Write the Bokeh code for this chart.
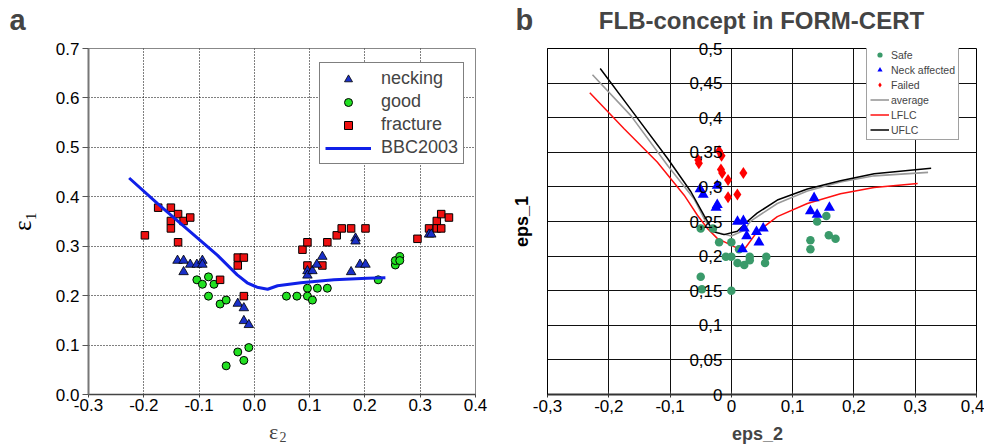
from bokeh.plotting import figure
from bokeh.models import FixedTicker, Legend, LegendItem, Label, Range1d
from bokeh.layouts import row, column
from bokeh.embed import file_html
from bokeh.resources import INLINE

# ---------------- Panel a data ----------------
neck_x = [-0.139, -0.128, -0.128, -0.116, -0.104, -0.094, -0.094, -0.030, -0.019, -0.019, -0.010,
          0.096, 0.096, 0.105, 0.113, 0.123, 0.175, 0.183, 0.183, 0.191, 0.201, 0.316, 0.320]
neck_y = [0.271, 0.271, 0.248, 0.263, 0.263, 0.271, 0.263, 0.184, 0.175, 0.149, 0.141,
          0.250, 0.241, 0.250, 0.263, 0.279, 0.248, 0.316, 0.310, 0.263, 0.263, 0.324, 0.324]

good_x = [-0.104, -0.094, -0.083, -0.083, -0.073, -0.062, -0.051, -0.051, -0.030, -0.019, -0.010,
          0.058, 0.077, 0.096, 0.096, 0.105, 0.114, 0.132, 0.224, 0.255, 0.255, 0.263, 0.263]
good_y = [0.232, 0.223, 0.238, 0.199, 0.223, 0.183, 0.191, 0.058, 0.086, 0.069, 0.095,
          0.199, 0.199, 0.215, 0.199, 0.191, 0.215, 0.215, 0.232, 0.262, 0.271, 0.279, 0.271]

frac_x = [-0.198, -0.174, -0.151, -0.151, -0.151, -0.138, -0.138, -0.128, -0.116, -0.062,
          -0.030, -0.019, -0.030, -0.019, 0.087, 0.096, 0.096, 0.123, 0.132, 0.149,
          0.158, 0.175, 0.201, 0.295, 0.316, 0.330, 0.330, 0.338, 0.338, 0.352]
frac_y = [0.322, 0.378, 0.378, 0.351, 0.336, 0.365, 0.308, 0.351, 0.358, 0.232,
          0.277, 0.277, 0.261, 0.199, 0.293, 0.308, 0.261, 0.261, 0.308, 0.322,
          0.336, 0.336, 0.336, 0.315, 0.336, 0.351, 0.336, 0.365, 0.336, 0.358]

bbc_x = [-0.2265, -0.175, -0.121, -0.067, -0.031, -0.013, 0.005, 0.024, 0.042, 0.084, 0.144, 0.204, 0.237]
bbc_y = [0.438, 0.386, 0.334, 0.282, 0.242, 0.226, 0.217, 0.213, 0.220, 0.226, 0.232, 0.235, 0.236]

a_xticks = [-0.3, -0.2, -0.1, 0.0, 0.1, 0.2, 0.3, 0.4]
a_yticks = [0.0, 0.1, 0.2, 0.3, 0.4, 0.5, 0.6, 0.7]

# ---------------- Panel b data ----------------
safe_x = [-0.050, -0.050, -0.048, -0.030, -0.020, -0.009, 0.000, 0.000, 0.000, 0.010, 0.0125,
          0.021, 0.030, 0.030, 0.057, 0.055, 0.129, 0.129, 0.140, 0.155, 0.159, 0.170]
safe_y = [0.240, 0.170, 0.152, 0.240, 0.220, 0.199, 0.220, 0.199, 0.150, 0.190, 0.210,
          0.187, 0.199, 0.194, 0.199, 0.190, 0.223, 0.210, 0.250, 0.258, 0.230, 0.225]

neckb_x = [-0.051, -0.046, -0.023, -0.023, -0.025, 0.010, 0.0196, 0.021, 0.025, 0.018,
           0.041, 0.052, 0.045, 0.135, 0.129, 0.140, 0.160]
neckb_y = [0.297, 0.289, 0.302, 0.274, 0.270, 0.250, 0.251, 0.240, 0.229, 0.210,
           0.235, 0.240, 0.220, 0.284, 0.265, 0.260, 0.270]

fail_x = [-0.054, -0.053, -0.020, -0.016, -0.017, -0.015, -0.0054, -0.0054, 0.0098, 0.0196]
fail_y = [0.339, 0.334, 0.352, 0.345, 0.325, 0.320, 0.310, 0.285, 0.289, 0.320]

uflc_x = [-0.214, -0.164, -0.104, -0.066, -0.0446, -0.029, -0.012, 0.0098, 0.026, 0.042, 0.075,
          0.124, 0.178, 0.233, 0.326]
uflc_y = [0.471, 0.412, 0.341, 0.293, 0.259, 0.235, 0.231, 0.236, 0.250, 0.262, 0.281,
          0.297, 0.309, 0.319, 0.327]

avg_x = [-0.2266, -0.164, -0.104, -0.061, -0.042, -0.023, 0.000, 0.021, 0.0315, 0.075,
         0.124, 0.178, 0.233, 0.321]
avg_y = [0.462, 0.403, 0.331, 0.283, 0.250, 0.234, 0.229, 0.2375, 0.2505, 0.276,
         0.294, 0.307, 0.316, 0.321]

lflc_x = [-0.231, -0.175, -0.121, -0.077, -0.0554, -0.039, -0.023, 0.007, 0.023, 0.042,
          0.075, 0.124, 0.178, 0.233, 0.304]
lflc_y = [0.436, 0.384, 0.336, 0.288, 0.259, 0.240, 0.2256, 0.2126, 0.212, 0.235,
          0.257, 0.276, 0.290, 0.299, 0.305]

b_xticks = [-0.3, -0.2, -0.1, 0.0, 0.1, 0.2, 0.3, 0.4]
b_xlabels = ["-0,3", "-0,2", "-0,1", "0", "0,1", "0,2", "0,3", "0,4"]
b_yticks = [0.0, 0.05, 0.1, 0.15, 0.2, 0.25, 0.3, 0.35, 0.4, 0.45, 0.5]
b_ylabels = ["0", "0,05", "0,1", "0,15", "0,2", "0,25", "0,3", "0,35", "0,4", "0,45", "0,5"]

SANS = "Liberation Sans"
SERIF = "Liberation Serif"

# page geometry (pixels, page origin at the top-left corner)
HEAD_H, MAIN_H, FOOT_H = 36, 382, 26
A_W, B_W = 490, 494
PAGE_X_A, PAGE_X_B = 0, A_W
HEAD_TOP = 0
FOOT_TOP = HEAD_H + MAIN_H


def text_strip(width, height):
    f = figure(width=width, height=height, x_range=Range1d(0, width), y_range=Range1d(0, height),
               x_axis_type=None, y_axis_type=None, output_backend="svg", toolbar_location=None,
               min_border=0, min_border_left=0, min_border_right=0, min_border_top=0,
               min_border_bottom=0)
    f.outline_line_color = None
    f.background_fill_color = "white"
    f.border_fill_color = "white"
    return f


# ---------------- header / footer strips with panel letters, title and x labels ----------------
ha = text_strip(A_W, HEAD_H)
hb = text_strip(B_W, HEAD_H)
fa = text_strip(A_W, FOOT_H)
fb = text_strip(B_W, FOOT_H)


def put(fig, page_x0, page_top, px, baseline, size, **kw):
    """Place text whose baseline sits at page pixel `baseline` (vertically centred anchor)."""
    cy = baseline - 0.34 * size
    fig.add_layout(Label(x=px - page_x0, y=(page_top + fig.height) - cy, text_baseline="middle",
                         text_font_size=f"{size}px", **kw))


put(ha, PAGE_X_A, HEAD_TOP, 9, 29.5, 29, text="a", text_font=SANS, text_font_style="bold",
    text_align="left")
put(hb, PAGE_X_B, HEAD_TOP, 515, 29.5, 29, text="b", text_font=SANS, text_font_style="bold",
    text_align="left")
put(hb, PAGE_X_B, HEAD_TOP, 761, 28, 24, text="FLB-concept in FORM-CERT", text_font=SANS,
    text_font_style="bold", text_align="center")
put(fa, PAGE_X_A, FOOT_TOP, 273, 438.5, 22, text="ε", text_font=SERIF, text_align="center")
put(fa, PAGE_X_A, FOOT_TOP, 279, 441, 14, text="2", text_font=SERIF, text_align="left")
put(fb, PAGE_X_B, FOOT_TOP, 757, 440, 18, text="eps_2", text_font=SANS, text_font_style="bold",
    text_align="center")

# ---------------- Panel a ----------------
A_L, A_R, A_T, A_B = 88, 15, 12, 23
p1 = figure(width=A_W, height=MAIN_H, x_range=Range1d(-0.3, 0.4), y_range=Range1d(0, 0.7),
            output_backend="svg", toolbar_location=None,
            min_border_left=A_L, min_border_right=A_R, min_border_top=A_T, min_border_bottom=A_B)
p1.background_fill_color = "white"
p1.border_fill_color = "white"
p1.outline_line_color = "#888888"
p1.outline_line_width = 1

for axis in (p1.xaxis, p1.yaxis):
    axis.major_label_text_font = SANS
    axis.major_label_text_font_size = "17px"
    axis.major_label_text_color = "black"
    axis.minor_tick_line_color = None
    axis.major_tick_in = 0
p1.xaxis.ticker = FixedTicker(ticks=a_xticks)
p1.yaxis.ticker = FixedTicker(ticks=a_yticks)
p1.xaxis.major_label_overrides = {t: f"{t:.1f}" for t in a_xticks}
p1.yaxis.major_label_overrides = {t: f"{t:.1f}" for t in a_yticks}
p1.xaxis.axis_line_color = "#444444"
p1.xaxis.axis_line_width = 1.5
p1.xaxis.major_tick_line_color = "#444444"
p1.xaxis.major_tick_out = 3
p1.xaxis.major_label_standoff = 1
p1.yaxis.axis_line_color = "#777777"
p1.yaxis.axis_line_width = 2
p1.yaxis.major_tick_line_color = "#555555"
p1.yaxis.major_tick_out = 6
p1.yaxis.major_label_standoff = 3
p1.yaxis.axis_label = "ε₁"
p1.yaxis.axis_label_text_font = SERIF
p1.yaxis.axis_label_text_font_size = "25px"
p1.yaxis.axis_label_text_font_style = "normal"
p1.yaxis.axis_label_text_color = "black"
p1.yaxis.axis_label_standoff = 17

p1.grid.grid_line_color = "black"
p1.grid.grid_line_dash = "1 2"
p1.grid.grid_line_width = 1

r_good = p1.scatter(good_x, good_y, marker="circle", size=8, fill_color="#22e022",
                    line_color="black", line_width=1)
r_frac = p1.scatter(frac_x, frac_y, marker="square", size=7.5, fill_color="#ee1111",
                    line_color="black", line_width=1)
r_neck = p1.scatter(neck_x, neck_y, marker="triangle", size=9.5, fill_color="#1a30c8",
                    line_color="black", line_width=0.8)
r_bbc = p1.line(bbc_x, bbc_y, line_color="#1020e8", line_width=3)

a_fx0, a_fbot = PAGE_X_A + A_L, HEAD_H + MAIN_H - A_B
leg1 = Legend(items=[LegendItem(label="necking", renderers=[r_neck]),
                     LegendItem(label="good", renderers=[r_good]),
                     LegendItem(label="fracture", renderers=[r_frac]),
                     LegendItem(label="BBC2003", renderers=[r_bbc])],
              location=(319 - a_fx0, a_fbot - 162 - 3))
leg1.label_text_font = SANS
leg1.label_text_font_size = "18px"
leg1.glyph_width = 46
leg1.glyph_height = 20
leg1.label_height = 20
leg1.label_standoff = 10
leg1.padding = 5
leg1.spacing = 2
leg1.margin = 0
leg1.border_line_color = "black"
leg1.border_line_width = 1
leg1.background_fill_color = "white"
leg1.background_fill_alpha = 1
p1.add_layout(leg1)

# ---------------- Panel b ----------------
B_L, B_R, B_T, B_B = 57, 8, 10, 24
p2 = figure(width=B_W, height=MAIN_H, x_range=Range1d(-0.3, 0.4), y_range=Range1d(0, 0.5),
            output_backend="svg", toolbar_location=None,
            min_border_left=B_L, min_border_right=B_R, min_border_top=B_T, min_border_bottom=B_B)
p2.background_fill_color = "white"
p2.border_fill_color = "white"
p2.outline_line_color = "black"
p2.outline_line_width = 1

p2.xaxis.ticker = FixedTicker(ticks=b_xticks)
p2.xaxis.major_label_overrides = dict(zip(b_xticks, b_xlabels))
p2.xaxis.major_label_text_font = SANS
p2.xaxis.major_label_text_font_size = "17px"
p2.xaxis.major_label_text_color = "black"
p2.xaxis.axis_line_color = "#333333"
p2.xaxis.axis_line_width = 2
p2.xaxis.major_tick_line_color = "#333333"
p2.xaxis.major_tick_in = 3
p2.xaxis.major_tick_out = 3
p2.xaxis.minor_tick_line_color = None
p2.xaxis.major_label_standoff = 2

# the y tick labels sit next to the eps_2 = 0 line, as in the original chart
b_frame_w = B_W - B_L - B_R
y_label_shift = round(b_frame_w * 0.3 / 0.7) - 9
p2.yaxis.ticker = FixedTicker(ticks=b_yticks)
p2.yaxis.major_label_overrides = dict(zip(b_yticks, b_ylabels))
p2.yaxis.major_label_text_font = SANS
p2.yaxis.major_label_text_font_size = "17px"
p2.yaxis.major_label_text_color = "black"
p2.yaxis.major_tick_out = 0
p2.yaxis.major_tick_in = 0
p2.yaxis.major_tick_line_color = None
p2.yaxis.minor_tick_line_color = None
p2.yaxis.major_label_standoff = -y_label_shift
p2.yaxis.axis_line_color = "black"
p2.yaxis.axis_label = "eps_1"
p2.yaxis.axis_label_text_font = SANS
p2.yaxis.axis_label_text_font_size = "18px"
p2.yaxis.axis_label_text_font_style = "bold"
p2.yaxis.axis_label_text_color = "black"
p2.yaxis.axis_label_standoff = y_label_shift - 33 + 12

p2.grid.grid_line_color = "#111111"
p2.grid.grid_line_width = 1

r_avg = p2.line(avg_x, avg_y, line_color="#999999", line_width=1.6)
r_lflc = p2.line(lflc_x, lflc_y, line_color="#ff1010", line_width=1.5)
r_uflc = p2.line(uflc_x, uflc_y, line_color="black", line_width=1.5)
r_safe = p2.scatter(safe_x, safe_y, marker="circle", size=8.5, fill_color="#3a9a6a",
                    line_color=None)
r_nb = p2.scatter(neckb_x, neckb_y, marker="triangle", size=11, fill_color="#0000ff",
                  line_color=None)
r_fail = p2.scatter(fail_x, fail_y, marker="diamond", size=12, fill_color="#ff0000",
                    line_color=None)

b_fx0, b_fbot = PAGE_X_B + B_L, HEAD_H + MAIN_H - B_B
leg2 = Legend(items=[LegendItem(label="Safe", renderers=[r_safe]),
                     LegendItem(label="Neck affected", renderers=[r_nb]),
                     LegendItem(label="Failed", renderers=[r_fail]),
                     LegendItem(label="average", renderers=[r_avg]),
                     LegendItem(label="LFLC", renderers=[r_lflc]),
                     LegendItem(label="UFLC", renderers=[r_uflc])],
              location=(866 - b_fx0, b_fbot - 137 - 3))
leg2.label_text_font = SANS
leg2.label_text_font_size = "10.5px"
leg2.glyph_width = 19
leg2.glyph_height = 13
leg2.label_height = 13
leg2.label_standoff = 2
leg2.padding = 3
leg2.spacing = 2
leg2.margin = 0
leg2.border_line_color = "#444444"
leg2.border_line_width = 1
leg2.background_fill_color = "white"
leg2.background_fill_alpha = 1
p2.add_layout(leg2)

layout = column(row(ha, hb), row(p1, p2), row(fa, fb))
open("out.html", "w").write(file_html(layout, INLINE))
